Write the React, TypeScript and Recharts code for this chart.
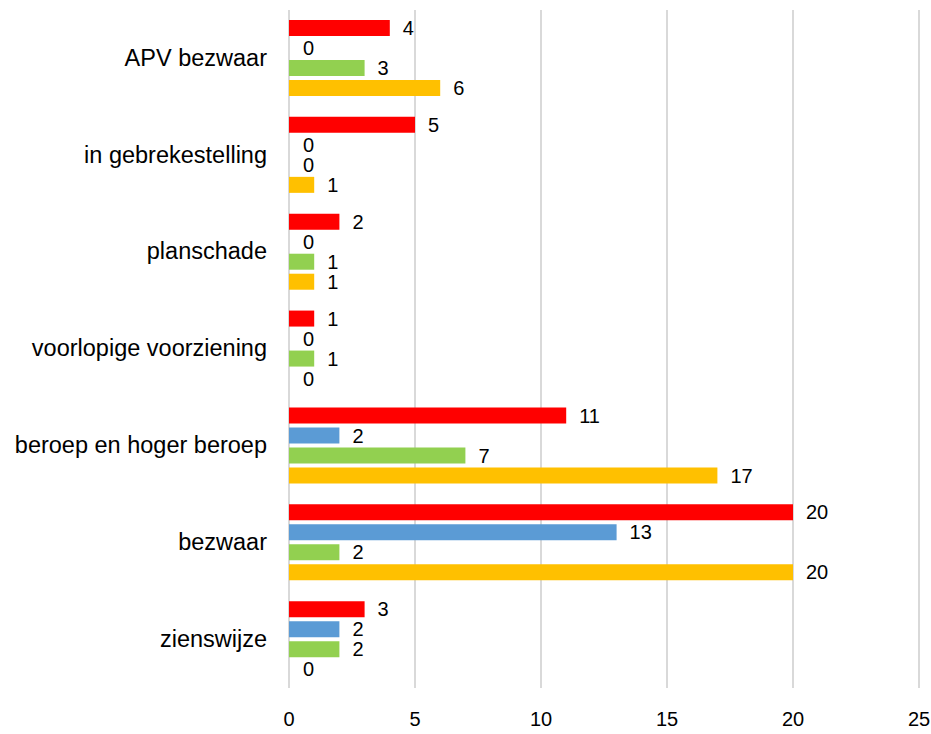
import { Bar, BarChart, CartesianGrid, LabelList, Rectangle, XAxis, YAxis } from "recharts"

const categories = [
  "APV bezwaar",
  "in gebrekestelling",
  "planschade",
  "voorlopige voorziening",
  "beroep en hoger beroep",
  "bezwaar",
  "zienswijze",
]

// four series per category, drawn top to bottom
const redValues = [4, 5, 2, 1, 11, 20, 3]
const blueValues = [0, 0, 0, 0, 2, 13, 2]
const greenValues = [3, 0, 1, 1, 7, 2, 2]
const yellowValues = [6, 1, 1, 0, 17, 20, 0]

const xTicks = [0, 5, 10, 15, 20, 25]

const data = categories.map((name, i) => ({
  name,
  red: redValues[i],
  blue: blueValues[i],
  green: greenValues[i],
  yellow: yellowValues[i],
}))

const series = [
  { key: "red", color: "#FF0000" },
  { key: "blue", color: "#5B9BD5" },
  { key: "green", color: "#92D050" },
  { key: "yellow", color: "#FFC000" },
]

// zero values keep a hairline slot so their "0" label still shows, but draw nothing
function makeShape(key: string) {
  return (props: any) => {
    if (!props.payload || props.payload[key] === 0) return <g />
    return <Rectangle {...props} />
  }
}

export default function App() {
  return (
    <div style={{ position: "absolute", left: 0, top: 0, background: "#fff" }}>
      <BarChart
        width={931}
        height={734}
        data={data}
        layout="vertical"
        margin={{ top: 10, right: 12, bottom: 0, left: 0 }}
        barSize={16}
        barGap={4}
        style={{ fontFamily: "'Liberation Sans', Arial, sans-serif" }}
      >
        <CartesianGrid horizontal={false} stroke="#D9D9D9" strokeWidth={2} />
        <XAxis
          type="number"
          domain={[0, 25]}
          ticks={xTicks}
          axisLine={false}
          tickLine={false}
          tickMargin={18}
          height={46}
          tick={{ fill: "#000", fontSize: 20 }}
        />
        <YAxis
          type="category"
          dataKey="name"
          axisLine={false}
          tickLine={false}
          width={289}
          tickMargin={16}
          tick={{ fill: "#000", fontSize: 23.5, dy: -1 }}
        />
        {series.map((s) => (
          <Bar
            key={s.key}
            dataKey={s.key}
            fill={s.color}
            minPointSize={1}
            shape={makeShape(s.key)}
            isAnimationActive={false}
          >
            <LabelList dataKey={s.key} position="right" offset={13} fill="#000" fontSize={20} />
          </Bar>
        ))}
      </BarChart>
    </div>
  )
}
